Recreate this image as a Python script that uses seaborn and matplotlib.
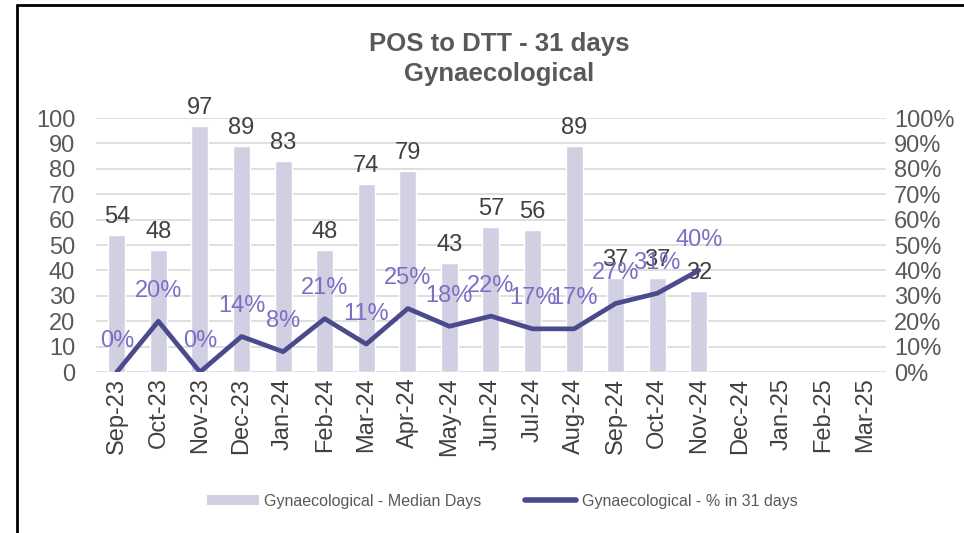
import numpy as np
import pandas as pd
import seaborn as sns
import matplotlib.pyplot as plt
from matplotlib.lines import Line2D
from matplotlib.patches import Patch

# chart data
months = ['Sep-23', 'Oct-23', 'Nov-23', 'Dec-23', 'Jan-24', 'Feb-24', 'Mar-24',
          'Apr-24', 'May-24', 'Jun-24', 'Jul-24', 'Aug-24', 'Sep-24', 'Oct-24',
          'Nov-24', 'Dec-24', 'Jan-25', 'Feb-25', 'Mar-25']
median_days = [54, 48, 97, 89, 83, 48, 74, 79, 43, 57, 56, 89, 37, 37, 32,
               None, None, None, None]
pct_31 = [0, 20, 0, 14, 8, 21, 11, 25, 18, 22, 17, 17, 27, 31, 40,
          None, None, None, None]

bar_col = '#D0D0E2'
line_col = '#4B4A8C'
pct_col = '#7B6FC3'
txt_col = '#595959'
lab_col = '#404040'

df = pd.DataFrame({'Month': months,
                   'Median': pd.array(median_days, dtype='Float64'),
                   'Pct': pd.array(pct_31, dtype='Float64')})

sns.set_theme(style='white')
plt.rcParams['font.family'] = ['Liberation Sans', 'DejaVu Sans']

fig = plt.figure(figsize=(9.64, 5.33), dpi=100)
ax = fig.add_axes([0.0996, 0.302, 0.8194, 0.4766])

sns.barplot(data=df, x='Month', y='Median', color=bar_col, width=0.41,
            saturation=1, ax=ax, order=months)
ax.set_ylim(0, 100)
ax.set_xlim(-0.5, len(months) - 0.5)
ax.set_yticks(range(0, 101, 10))
ax.yaxis.grid(True, color='#D9D9D9', linewidth=1.2)
ax.set_axisbelow(True)
for s in ax.spines.values():
    s.set_visible(False)
ax.set_xlabel('')
ax.set_ylabel('')
ax.tick_params(axis='y', labelsize=17, labelcolor=txt_col, length=0, pad=15)
ax.tick_params(axis='x', labelsize=17, labelcolor=lab_col, length=0, pad=4)
plt.setp(ax.get_xticklabels(), rotation=90)

# bar value labels
for i, v in enumerate(median_days):
    if v is not None:
        ax.annotate(str(v), (i, v), xytext=(0, 5), textcoords='offset points',
                    ha='center', va='bottom', fontsize=17, color=lab_col)

# percentage line on secondary axis
ax2 = ax.twinx()
pdf = df.dropna(subset=['Pct'])
sns.lineplot(x=[months.index(m) for m in pdf['Month']], y=pdf['Pct'].astype(float),
             color=line_col, linewidth=3.4, ax=ax2)
ax2.set_ylim(0, 100)
ax2.set_yticks(range(0, 101, 10))
ax2.set_yticklabels([f'{t}%' for t in range(0, 101, 10)])
ax2.tick_params(axis='y', labelsize=17, labelcolor=txt_col, length=0, pad=6)
ax2.set_ylabel('')
for s in ax2.spines.values():
    s.set_visible(False)
ax2.grid(False)

for i, v in enumerate(pct_31):
    if v is not None:
        ax2.annotate(f'{v}%', (i, v), xytext=(0, 22), textcoords='offset points',
                     ha='center', va='center', fontsize=17, color=pct_col)

# title
fig.text(0.518, 0.917, 'POS to DTT - 31 days', ha='center', va='center',
         fontsize=18.5, fontweight='bold', color=txt_col)
fig.text(0.518, 0.861, 'Gynaecological', ha='center', va='center',
         fontsize=18.5, fontweight='bold', color=txt_col)

# legend
handles = [Patch(facecolor=bar_col, edgecolor='none'),
           Line2D([0], [0], color=line_col, linewidth=4)]
labels = ['Gynaecological - Median Days', 'Gynaecological - % in 31 days']
fig.legend(handles, labels, loc='center', bbox_to_anchor=(0.521, 0.06),
           ncol=2, frameon=False, fontsize=11.5, labelcolor=txt_col,
           handlelength=3.25, handleheight=0.6, handletextpad=0.35,
           columnspacing=2.7)

# outer frame
fig.add_artist(Line2D([17 / 964, 1], [1 - 5 / 533, 1 - 5 / 533],
                      transform=fig.transFigure, color='black', linewidth=2))
fig.add_artist(Line2D([17 / 964, 17 / 964], [0, 1 - 5 / 533],
                      transform=fig.transFigure, color='black', linewidth=2))

fig.savefig('out.png', dpi=100)
